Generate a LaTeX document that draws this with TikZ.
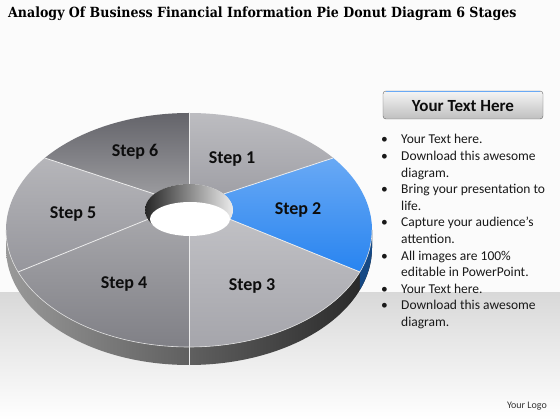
\documentclass[tikz,border=0pt]{standalone}
\usepackage{fontspec}
\setmainfont{Carlito}
\newfontfamily\titlefont{DejaVu Serif Condensed}
\usetikzlibrary{calc}

\definecolor{sOne}{RGB}{160,160,166}
\definecolor{sTwo}{RGB}{40,132,240}
\definecolor{sThree}{RGB}{165,165,171}
\definecolor{sFour}{RGB}{128,128,134}
\definecolor{sFive}{RGB}{150,150,156}
\definecolor{sSix}{RGB}{100,100,106}

\tikzstyle{stepLabel} = [font=\bfseries\fontsize{18}{18}\selectfont, text=black!95]
\tikzstyle{divider} = [draw=white!85!gray, line width=0.8pt]
\tikzstyle{bodyLine} = [anchor=base west, inner sep=0pt, font=\fontsize{13.5}{13.5}\selectfont, text=black!90]

\begin{document}
\begin{tikzpicture}[x=1pt,y=1pt]
    \useasboundingbox (0,0) rectangle (560,420);
    \fill[white!97!gray] (0,0) rectangle (560,420);
    \shade[top color=black!15, bottom color=white] (0,0) rectangle (560,127);

    \node[anchor=base west, inner sep=0pt, font=\titlefont\bfseries\fontsize{14}{14}\selectfont] (title) at (8,402) {Analogy Of Business Financial Information Pie Donut Diagram 6 Stages};

    \coordinate (O) at (189,190);
    \coordinate (H) at (189,210);

    \shade[left color=black!40, right color=black!85] ($(O)+(180:183pt and 117pt)$) arc[start angle=180, end angle=360, x radius=183pt, y radius=117pt] -- ++(0,-18) arc[start angle=360, end angle=180, x radius=183pt, y radius=117pt] -- cycle;
    \fill[sTwo!55!black] ($(O)+(-21:183pt and 117pt)$) arc[start angle=-21, end angle=0, x radius=183pt, y radius=117pt] -- ++(0,-18) arc[start angle=0, end angle=-21, x radius=183pt, y radius=117pt] -- cycle;

    \foreach \a/\b/\col in {38/90/sOne, -21/38/sTwo, -90/-21/sThree, -159/-90/sFour, 142/201/sFive}
        \shade[top color=\col!70!white, bottom color=\col] ($(O)+(\a:183pt and 117pt)$) arc[start angle=\a, end angle=\b, x radius=183pt, y radius=117pt] -- ($(H)+(\b:44pt and 26pt)$) arc[start angle=\b, end angle=\a, x radius=44pt, y radius=26pt] -- cycle;
    \shade[top color=sSix, bottom color=sSix!65!white] ($(O)+(90:183pt and 117pt)$) arc[start angle=90, end angle=142, x radius=183pt, y radius=117pt] -- ($(H)+(142:44pt and 26pt)$) arc[start angle=142, end angle=90, x radius=44pt, y radius=26pt] -- cycle;

    \foreach \a in {90,38,-21,-90,-159,142}
        \draw[divider] ($(H)+(\a:44pt and 26pt)$) -- ($(O)+(\a:183pt and 117pt)$);
    \draw[divider] (189,73) -- (189,55);
    \draw[white!75!gray, line width=0.6pt] ($(O)+(180:183pt and 117pt)$) arc[start angle=180, end angle=360, x radius=183pt, y radius=117pt];

    \shade[left color=black!85, right color=white!85!gray] (H) ellipse[x radius=44pt, y radius=26pt];
    \fill[white] (190,201) ellipse[x radius=40pt, y radius=17pt];

    \node[stepLabel] (step1) at (232,261) {Step 1};
    \node[stepLabel] (step2) at (298,210) {Step 2};
    \node[stepLabel] (step3) at (252,134) {Step 3};
    \node[stepLabel] (step4) at (124,136) {Step 4};
    \node[stepLabel] (step5) at (73,206) {Step 5};
    \node[stepLabel] (step6) at (135,268) {Step 6};

    \shade[top color=white!92!gray, bottom color=black!25, draw=black!60, rounded corners=3pt] (383,301) rectangle (543,329);
    \draw[sTwo!70!white, line width=1.5pt] (386,328.5) -- (540,328.5);
    \node[font=\bfseries\fontsize{17}{17}\selectfont, text=black!95] (button) at (463,314) {Your Text Here};

    \foreach \b/\txt [count=\i] in {1/Your Text here., 1/Download this awesome, 0/diagram., 1/Bring your presentation to, 0/life., 1/Capture your audience’s, 0/attention., 1/All images are 100\%, 0/editable in PowerPoint., 1/Your Text here., 1/Download this awesome, 0/diagram.} {
        \node[bodyLine] (line\i) at (401,{276-(\i-1)*16.6}) {\txt};
        \ifnum\b=1 \node[bodyLine] (bullet\i) at (381,{276-(\i-1)*16.6}) {\textbullet}; \fi
    }

    \node[anchor=base east, inner sep=0pt, font=\fontsize{10}{10}\selectfont, text=black!80] (logo) at (547,11) {Your Logo};
\end{tikzpicture}
\end{document}
